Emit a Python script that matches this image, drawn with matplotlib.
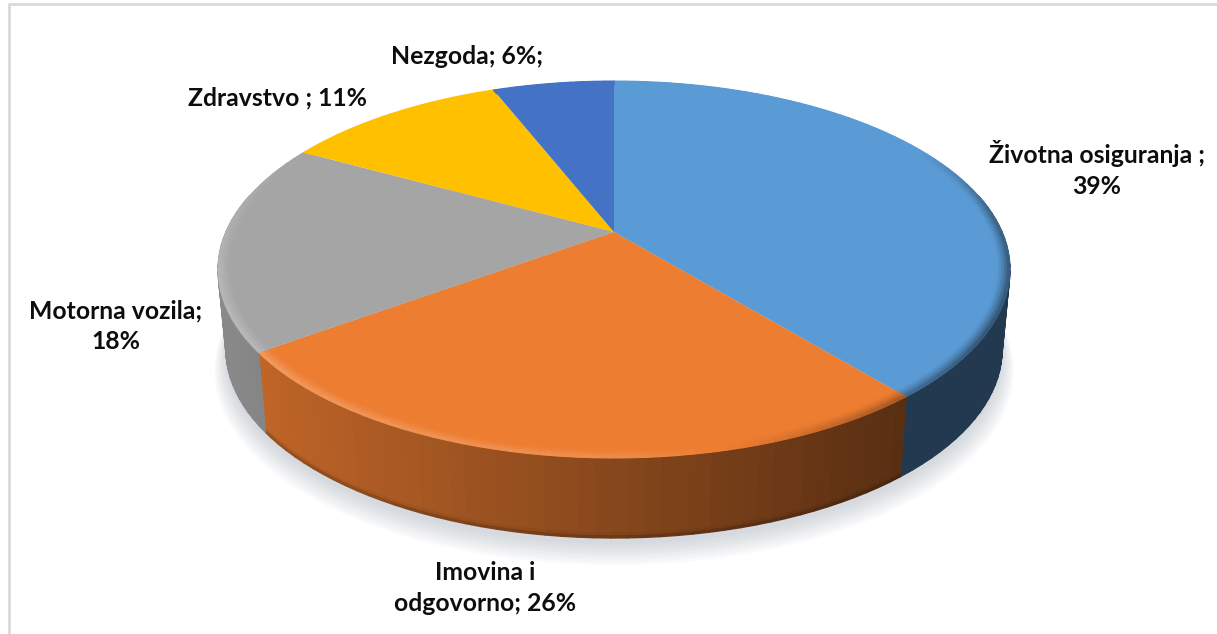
import numpy as np
import matplotlib
matplotlib.use("Agg")
import matplotlib.pyplot as plt
from matplotlib.collections import PolyCollection
from matplotlib.path import Path
from matplotlib.transforms import Affine2D, Transform

# --- data ---
categories = ["Životna osiguranja", "Imovina i odgovorno", "Motorna vozila", "Zdravstvo", "Nezgoda"]
shares = [39, 26, 18, 11, 6]
labels = ["Životna osiguranja ;\n39%", "Imovina i\nodgovorno; 26%", "Motorna vozila;\n18%",
          "Zdravstvo ; 11%", "Nezgoda; 6%;"]
colors = ["#5B9BD5", "#ED7D31", "#A5A5A5", "#FFC000", "#4472C4"]
label_xy = [(1097, 169), (485, 588), (116, 326), (277, 98), (467, 57)]

# --- perspective of the tilted disc, in image pixels ---
CX, CY, SX, SY, PERSP = 614.0, 232.0, 388.0, 181.0, 0.199
DEPTH, BOTTOM_SCALE = 80.0, 0.98


def project(x, y):
    w = 1 + PERSP * y
    return CX + SX * x / w, CY - SY * y / w


class Tilt(Transform):
    input_dims = output_dims = 2

    def transform_non_affine(self, xy):
        xy = np.asarray(xy, float)
        return np.column_stack(project(xy[:, 0], xy[:, 1]))

    def transform_path_non_affine(self, path):
        big = path.transformed(Affine2D().scale(2000))
        poly = big.to_polygons()[0] / 2000
        return Path(self.transform_non_affine(poly))


def polar(theta, r=1.0):  # theta clockwise from the top, in degrees
    t = np.radians(theta)
    return project(r * np.sin(t), r * np.cos(t))


def lower(px, py, t=1.0):
    s = 1 - (1 - BOTTOM_SCALE) * t
    return CX + (px - CX) * s, py + DEPTH * t


def hex_rgb(c):
    return np.array(matplotlib.colors.to_rgb(c))


fig = plt.figure(figsize=(12.17, 6.34), dpi=100, facecolor="white")
ax = fig.add_axes([0, 0, 1, 1])

wedges, _ = ax.pie(shares, colors=colors, startangle=90, counterclock=False,
                   radius=1.0, wedgeprops={"linewidth": 0})
ax.set_aspect("auto")
ax.set_xlim(0, 1217)
ax.set_ylim(634, 0)
ax.axis("off")
tilt = Tilt() + ax.transData
for w in wedges:
    w.set_transform(tilt)
    w.set_zorder(3)
    w.set_clip_on(False)

edges = np.concatenate([[0], np.cumsum(shares)]) * 3.6

# soft shadow under the disc
ang = np.linspace(0, 360, 361)
px, py = polar(ang)
bx, by = lower(px, py)
for grow, drop in zip(np.linspace(1.03, 1.0, 9), np.linspace(19, 6, 9)):
    ax.fill(CX + (bx - CX) * grow, CY + 38 + (by - CY - 38) * grow + drop,
            color="#8C9AA3", alpha=0.045, lw=0, zorder=1)

# side wall, shaded from left to right
bands = np.array([0, 0.06, 0.14, 0.94, 0.975, 1.0])
band_factor = [1.0, 1.0, 1.0, 0.95, 0.8]
polys, fills = [], []
for i, c in enumerate(colors):
    base = hex_rgb(c)
    th = np.arange(edges[i], edges[i + 1] + 1.0, 2.0)
    th[-1] = edges[i + 1]
    for a, b in zip(th[:-1], th[1:]):
        xa, ya = polar(a)
        xb, yb = polar(b)
        if ya < 200 and yb < 200:
            continue
        shade = np.clip(0.8 - 0.00067 * ((xa + xb) / 2 - 268), 0.37, 0.86)
        for k in range(len(bands) - 1):
            t0, t1 = bands[k], bands[k + 1]
            q = [lower(xa, ya, t0), lower(xb, yb, t0), lower(xb, yb, t1), lower(xa, ya, t1)]
            polys.append(q)
            fills.append(base * shade * (band_factor[k] if i == 1 else 1.0))
ax.add_collection(PolyCollection(polys, facecolors=fills, edgecolors=fills, linewidths=1.0, zorder=2))

# bevel along the rim of the top face
anchor_theta = [0, 60, 85, 120, 140, 165, 180, 230, 255, 275, 295, 360]
anchor_k = [0, 0, -0.4, -0.5, -0.35, -0.02, 0.14, 0.24, 0.22, 0.12, 0, 0]
radii = np.linspace(0.968, 1.0, 6)
polys, fills = [], []
for i, c in enumerate(colors):
    base = hex_rgb(c)
    th = np.arange(edges[i], edges[i + 1] + 1.0, 2.0)
    th[-1] = edges[i + 1]
    for a, b in zip(th[:-1], th[1:]):
        k = np.interp((a + b) / 2, anchor_theta, anchor_k)
        for j in range(len(radii) - 1):
            r0, r1 = radii[j], radii[j + 1]
            p = ((j + 0.5) / (len(radii) - 1)) ** 1.4
            col = base * (1 + k * p) if k < 0 else base + (1 - base) * k * p
            q = [polar(a, r0), polar(b, r0), polar(b, r1), polar(a, r1)]
            polys.append(q)
            fills.append(np.clip(col, 0, 1))
ax.add_collection(PolyCollection(polys, facecolors=fills, edgecolors=fills, linewidths=0.8, zorder=4))

# frame remnants
ax.plot([9, 1217], [4, 4], color="#D9D9D9", lw=2, zorder=0, solid_capstyle="butt")
ax.plot([9, 9], [3, 634], color="#D9D9D9", lw=2, zorder=0, solid_capstyle="butt")

for text, (x, y) in zip(labels, label_xy):
    ax.text(x, y, text, ha="center", va="center", fontsize=17.8, fontweight="bold",
            family=["Lato", "DejaVu Sans"], color="#0D0D0D", linespacing=1.38, zorder=6)

fig.savefig("out.png", dpi=100, facecolor="white")
